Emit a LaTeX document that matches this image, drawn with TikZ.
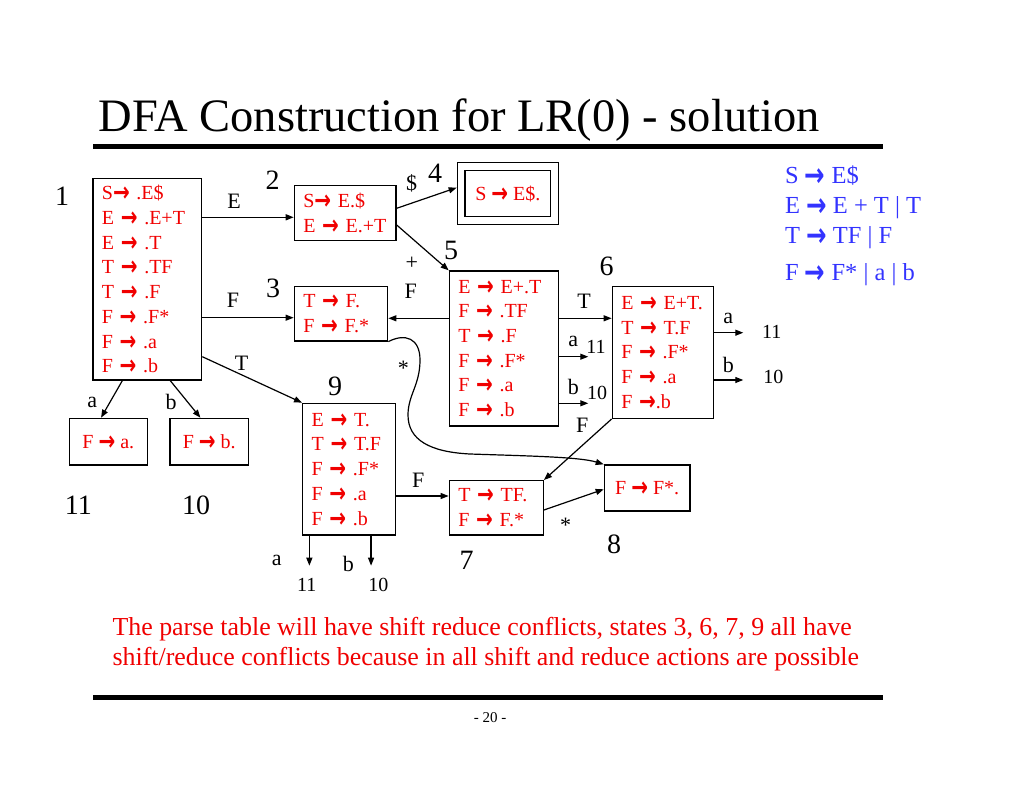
\documentclass[tikz,border=0pt]{standalone}
\usepackage{fontspec}
\setmainfont{Liberation Serif}
\newfontfamily\arrfont{DejaVu Sans}
\usetikzlibrary{arrows.meta}
\newcommand{\rarr}{\raisebox{-0.1em}[0pt][0pt]{\arrfont\bfseries\scalebox{1.0}[1.35]{\char"2192}}}
\definecolor{ired}{RGB}{240,0,0}
\definecolor{gblue}{RGB}{51,51,255}
\begin{document}
\begin{tikzpicture}[x=1pt,y=-1pt,
  st/.style={draw=black, line width=1.3pt, text=ired, align=left, inner ysep=0pt, inner xsep=9pt, font=\fontsize{20}{24.7}\selectfont},
  stc/.style={draw=black, line width=1.3pt, text=ired, align=center, inner sep=0pt, font=\fontsize{20}{24.7}\selectfont},
  ed/.style={line width=1.2pt, -{Triangle[length=8pt,width=6pt]}},
  big/.style={font=\fontsize{28}{28}\selectfont},
  lab/.style={font=\fontsize{22}{22}\selectfont},
  sm/.style={font=\fontsize{20}{20}\selectfont},
  gram/.style={text=gblue, anchor=west, inner sep=0pt, font=\fontsize{24.5}{24.5}\selectfont}]
\useasboundingbox (0,0) rectangle (1024,791);
% title
\node[anchor=base west, font=\fontsize{46.5}{46.5}\selectfont] (title) at (95,131.7) {DFA Construction for LR(0) - solution};
\draw[line width=5pt] (93.3,146.7) -- (883.3,146.7);
% states
\node[st, text width=90.7pt, minimum height=201.7pt] (s1) at (147.3,279.2)
  {S\rarr~.E\$\\E~\rarr~.E+T\\E~\rarr~.T\\T~\rarr~.TF\\T~\rarr~.F\\F~\rarr~.F*\\F~\rarr~.a\\F~\rarr~.b};
\node[st, text width=83.7pt, minimum height=55pt] (s2) at (345.2,213.2)
  {S\rarr~E.\$\\E~\rarr~E.+T};
\node[st, text width=75.4pt, minimum height=54.3pt] (s3) at (341,313.8)
  {T~\rarr~F.\\F~\rarr~F.*};
\node[stc, minimum width=85.7pt, minimum height=46pt] (s4) at (507.8,193.7) {S~\rarr~E\$.};
\node[draw, line width=1.3pt, minimum width=101pt, minimum height=61.6pt, inner sep=0pt] (s4o) at (507.8,193.5) {};
\node[st, text width=91pt, minimum height=155pt] (s5) at (503.8,348.5)
  {E~\rarr~E+.T\\F~\rarr~.TF\\T~\rarr~.F\\F~\rarr~.F*\\F~\rarr~.a\\F~\rarr~.b};
\node[st, text width=83pt, minimum height=131.6pt] (s6) at (662.8,352.5)
  {E~\rarr~E+T.\\T~\rarr~T.F\\F~\rarr~.F*\\F~\rarr~.a\\F~\rarr.b};
\node[st, text width=76pt, minimum height=54.3pt] (s7) at (496.3,507.8)
  {T~\rarr~TF.\\F~\rarr~F.*};
\node[stc, minimum width=85.7pt, minimum height=46pt] (s8) at (647.2,488) {F~\rarr~F*.};
\node[st, text width=75pt, minimum height=131.7pt] (s9) at (349.2,469.2)
  {E~\rarr~T.\\T~\rarr~T.F\\F~\rarr~.F*\\F~\rarr~.a\\F~\rarr~.b};
\node[stc, minimum width=78pt, minimum height=46.7pt] (s11) at (108.3,441.7) {F~\rarr~a.};
\node[stc, minimum width=78.3pt, minimum height=46.7pt] (s10) at (209.2,441.7) {F~\rarr~b.};
% state numbers
\node[big] (n1) at (62,196) {1};
\node[big] (n2) at (272.7,180) {2};
\node[big] (n3) at (273,288) {3};
\node[big] (n4) at (435,173.3) {4};
\node[big] (n5) at (451,250) {5};
\node[big] (n6) at (606.7,266.7) {6};
\node[big] (n7) at (466.7,560) {7};
\node[big] (n8) at (614,544) {8};
\node[big] (n9) at (335,386.7) {9};
\node[big] (n11) at (78.3,505) {11};
\node[big] (n10) at (196,505) {10};
% transitions
\draw[ed] (s1.east |- 0,217.3) -- (s2.west |- 0,217.3);
\draw[ed] (s1.east |- 0,317.7) -- (s3.west |- 0,317.7);
\draw[ed] (s1.east |- 0,356.7) -- (s9.north west);
\draw[ed] (s2.east |- 0,208.3) -- (s4o.west |- 0,187.7);
\draw[ed] (s2.east |- 0,225) -- (s5.north west);
\draw[ed] (s5.west |- 0,318.3) -- (s3.east |- 0,318.3);
\draw[ed] (s5.east |- 0,318.3) -- (s6.west |- 0,318.3);
\coordinate (t5a) at (588.3,356.7);
\coordinate (t5b) at (588.3,403.3);
\draw[ed] (s5.east |- t5a) -- (t5a);
\draw[ed] (s5.east |- t5b) -- (t5b);
\coordinate (t6a) at (743.3,332.7);
\coordinate (t6b) at (743.3,380);
\draw[ed] (s6.east |- t6a) -- (t6a);
\draw[ed] (s6.east |- t6b) -- (t6b);
\draw[ed] (s6.south west) -- (s7.north east);
\draw[ed] (s7.east |- 0,510) -- (s8.west |- 0,489.3);
\draw[ed] (s3.south east) .. controls (405,333) and (420,338) .. (420,360)
  .. controls (420,385) and (408,395) .. (408,415)
  .. controls (408,440) and (430,452) .. (470,454)
  .. controls (530,456) and (580,457) .. (s8.north west);
\draw[ed] (s9.east |- 0,496) -- (s7.west |- 0,496);
\draw[ed] ([xshift=7.3pt]s9.south west) -- ++(0,30);
\draw[ed] ([xshift=69pt]s9.south west) -- ++(0,30);
\draw[ed] ([xshift=30pt]s1.south west) -- ([xshift=32.4pt]s11.north west);
\draw[ed] ([xshift=78pt]s1.south west) -- ([xshift=31pt]s10.north west);
% edge labels
\node[lab] (lE) at (234,201.7) {E};
\node[lab] (lF1) at (233,300) {F};
\node[lab] (lT1) at (241.7,363) {T};
\node[lab] (ld) at (411.7,183) {\$};
\node[lab] (lp) at (411.7,263.3) {+};
\node[lab] (lF5) at (410.7,291.7) {F};
\node[lab] (lT5) at (584,301.7) {T};
\node[lab] (la5) at (573.3,341.7) {a};
\node[sm] (n5a) at (596,346.7) {11};
\node[lab] (lb5) at (573.3,386.7) {b};
\node[sm] (n5b) at (597,392.7) {10};
\node[lab] (la6) at (728.3,318.3) {a};
\node[sm] (n6a) at (771.7,331.7) {11};
\node[lab] (lb6) at (728.3,365) {b};
\node[sm] (n6b) at (773.3,376.7) {10};
\node[lab] (lF6) at (582.3,425) {F};
\node[lab] (ls3) at (403.3,368) {*};
\node[lab] (ls7) at (565.7,525) {*};
\node[lab] (lF9) at (418.3,480) {F};
\node[lab] (la9) at (276.7,560) {a};
\node[lab] (lb9) at (348.3,564.3) {b};
\node[sm] (n9a) at (306.7,585) {11};
\node[sm] (n9b) at (378.3,585) {10};
\node[lab] (la1) at (92.3,402.7) {a};
\node[lab] (lb1) at (171,401.7) {b};
% grammar
\node[gram] (g1) at (785,176) {S \rarr\ E\$};
\node[gram] (g2) at (785,208) {E \rarr\ E + T | T};
\node[gram] (g3) at (785,238) {T \rarr\ TF | F};
\node[gram] (g4) at (785,275) {F \rarr\ F* | a | b};
% note
\node[anchor=base west, text=ired, font=\fontsize{25.9}{25.9}\selectfont] (c1) at (109,635) {The parse table will have shift reduce conflicts, states 3, 6, 7, 9 all have};
\node[anchor=base west, text=ired, font=\fontsize{25.9}{25.9}\selectfont] (c2) at (109,665) {shift/reduce conflicts because in all shift and reduce actions are possible};
\draw[line width=5pt] (93.3,697.7) -- (883.3,697.7);
\node[font=\fontsize{15}{15}\selectfont] (pg) at (490,718) {- 20 -};
\end{tikzpicture}
\end{document}
